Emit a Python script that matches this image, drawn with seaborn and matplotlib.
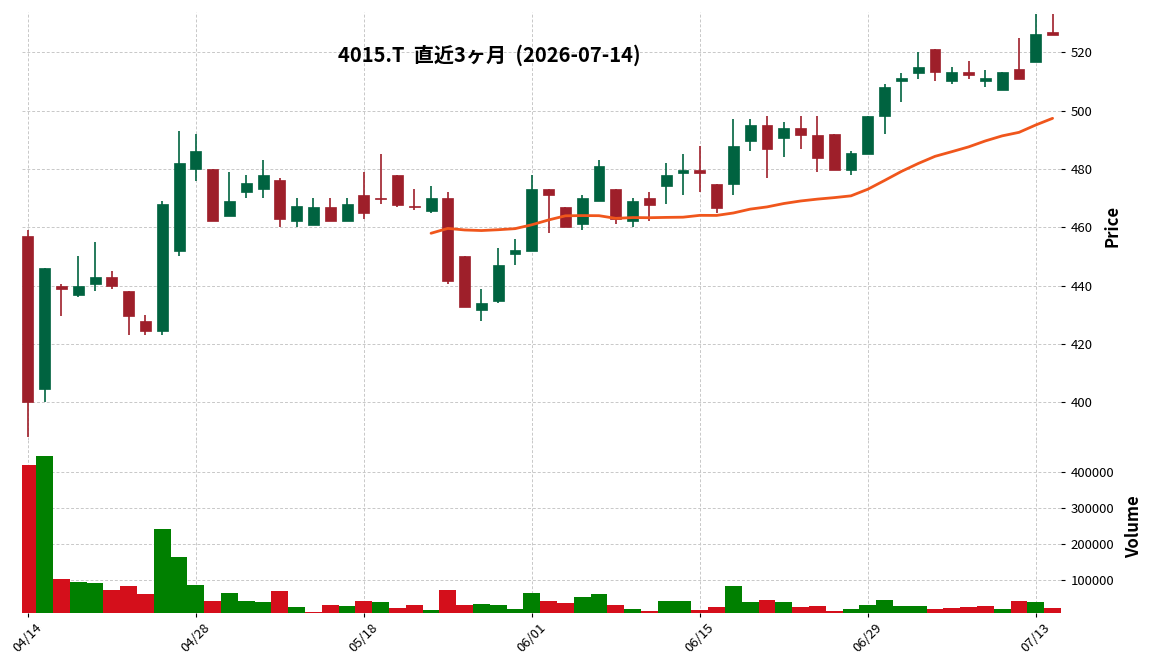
import numpy as np
import pandas as pd
import matplotlib
matplotlib.use("Agg")
import matplotlib.pyplot as plt
import seaborn as sns

# ── daily data (4015.T, last 3 months) ───────────────────────────────────
dates = ["04/14", "04/15", "04/16", "04/17", "04/20", "04/21", "04/22", "04/23", "04/24", "04/27",
         "04/28", "04/30", "05/01", "05/07", "05/08", "05/11", "05/12", "05/13", "05/14", "05/15",
         "05/18", "05/19", "05/20", "05/21", "05/22", "05/25", "05/26", "05/27", "05/28", "05/29",
         "06/01", "06/02", "06/03", "06/04", "06/05", "06/08", "06/09", "06/10", "06/11", "06/12",
         "06/15", "06/16", "06/17", "06/18", "06/19", "06/22", "06/23", "06/24", "06/25", "06/26",
         "06/29", "06/30", "07/01", "07/02", "07/03", "07/06", "07/07", "07/08", "07/09", "07/10",
         "07/13", "07/14"]

opens = [457, 404.5, 440, 436.7, 440.5, 443, 438, 428, 424.6, 452,
         480, 480, 464, 472, 473, 476.3, 462, 460.8, 467, 462,
         471, 470.2, 478, 467, 465.7, 470, 450, 431.6, 434.7, 451,
         452, 473.2, 467, 461, 469, 473, 462, 470, 474, 478.7,
         479.8, 475, 475, 489.5, 495, 490.5, 494, 491.8, 492, 479.8,
         485, 498, 510, 513, 521, 510, 513.3, 510, 507, 514.3,
         516.7, 527]
highs = [459, 446, 440.7, 450, 455, 445, 438, 429.8, 469, 493,
         492, 480, 479, 478, 483, 477, 470, 470, 470, 470,
         479, 485, 478, 473, 474, 472, 450, 439, 453, 456,
         478, 473.2, 467, 471, 483, 473, 470, 472, 482, 485,
         488, 475, 497, 497, 498, 496, 498, 498, 492, 486,
         498.2, 509, 513, 520, 521, 515, 517, 514, 513.3, 525,
         533, 533]
lows = [388, 400, 429.7, 436, 438, 439, 423, 423, 423, 450,
        476, 462, 464, 470, 470, 460, 460, 460.8, 462, 462,
        463, 468, 467, 466, 465, 440.7, 432.6, 428, 434, 447,
        452, 458, 460, 459, 469, 461, 460, 462, 468, 471,
        472, 465, 471, 486, 477, 484, 487, 479, 479.6, 478,
        485, 492, 503, 511, 510, 509, 511, 508, 507, 511,
        516.7, 526]
closes = [400, 446, 439, 440, 443, 440, 429.5, 424.6, 468, 482,
          486, 462, 469, 475.3, 478, 463, 467.2, 467, 462, 468,
          465, 469.8, 467.8, 466.8, 470, 441.6, 432.6, 434, 447, 452.2,
          473.2, 471, 460, 470, 481, 463, 469, 467.7, 478, 479.8,
          478.7, 466.6, 488, 495, 487, 494, 491.6, 483.7, 479.6, 485.3,
          498.2, 508, 511.2, 515, 513.4, 513.2, 512.1, 511.2, 513.3, 511,
          526.3, 526]
volumes = [420600, 445800, 103700, 95300, 92500, 72900, 84100, 61700, 241100, 165400,
           86900, 42100, 64500, 42100, 39300, 70100, 25200, 11200, 30800, 28000,
           42100, 39300, 22400, 30800, 16800, 72900, 30800, 33600, 30800, 19600,
           64500, 42100, 36400, 53300, 61700, 30800, 19600, 14000, 42100, 42100,
           16800, 25200, 84100, 39300, 44900, 39300, 25200, 28000, 14000, 19600,
           30800, 44900, 28000, 28000, 19600, 22400, 25200, 28000, 19600, 42100,
           39300, 22400]

title = "4015.T  直近3ヶ月  (2026-07-14)"
price_ticks = [400, 420, 440, 460, 480, 500, 520]
volume_ticks = [100000, 200000, 300000, 400000]
ma_window = 25

df = pd.DataFrame({"date": dates, "open": opens, "high": highs, "low": lows,
                   "close": closes, "volume": volumes})
df["x"] = np.arange(len(df))
df["ma"] = df["close"].rolling(ma_window).mean()

# colours
up_c, down_c = "#006340", "#9e1f2a"
vol_up_c, vol_down_c = "#008000", "#d40f1b"
ma_c = "#f0561c"

sns.set_theme(style="white", rc={"text.color": "black", "axes.labelcolor": "black",
                                 "xtick.color": "black", "ytick.color": "black"})
plt.rcParams["font.family"] = ["Noto Sans CJK JP", "DejaVu Sans"]

fig = plt.figure(figsize=(11.52, 6.70), dpi=100)
ax = fig.add_axes([0.0191, 0.3433, 0.9019, 0.6388])
axv = fig.add_axes([0.0191, 0.0855, 0.9019, 0.2578], sharex=ax)

grid_kw = dict(color="#c8c8c8", linestyle=(0, (3, 2)), linewidth=0.7)

# ── candles ───────────────────────────────────────────────────────────────
up = df["close"] >= df["open"]
ccol = np.where(up, up_c, down_c)
ax.vlines(df["x"], df["low"], df["high"], colors=ccol, linewidth=1.2, zorder=2)
body = (df["close"] - df["open"]).where(lambda s: s.abs() > 0.3, 0.3)
ax.bar(df["x"], body, bottom=df["open"], width=0.65, color=ccol,
       edgecolor=ccol, linewidth=0.5, zorder=3)

# moving average
sns.lineplot(data=df, x="x", y="ma", ax=ax, color=ma_c, linewidth=2, zorder=4)

ax.set_xlim(-0.35, len(df) - 0.5)
ax.set_ylim(387.1, 533.8)
ax.yaxis.tick_right()
ax.yaxis.set_label_position("right")
ax.set_yticks(price_ticks)
ax.set_ylabel("Price", fontsize=12, fontweight="bold", labelpad=8)
ax.set_xlabel("")
ax.grid(True, **grid_kw)
ax.set_axisbelow(True)
ax.tick_params(axis="x", labelbottom=False, length=0)
ax.tick_params(axis="y", right=True, length=3, width=0.8, labelsize=9.5, pad=4)
ax.text(0.45, 0.9, title, transform=ax.transAxes, ha="center", va="center",
        fontsize=14.5, fontweight="bold")

# ── volume ────────────────────────────────────────────────────────────────
prev_close = df["close"].shift(1).fillna(df["open"])
vcol = np.where(df["close"] > prev_close, vol_up_c, vol_down_c)
axv.bar(df["x"], df["volume"], width=1.0, color=vcol, linewidth=0, zorder=3)
axv.set_ylim(9300, 1.1 * max(volumes))
axv.yaxis.tick_right()
axv.yaxis.set_label_position("right")
axv.set_yticks(volume_ticks)
axv.set_yticklabels([str(v) for v in volume_ticks])
axv.set_ylabel("Volume", fontsize=12, fontweight="bold", labelpad=8)
axv.grid(True, **grid_kw)
axv.set_axisbelow(True)
tick_pos = list(range(0, len(df), 10))
axv.set_xticks(tick_pos)
axv.set_xticklabels([dates[i] for i in tick_pos], rotation=45, ha="center")
axv.tick_params(axis="x", bottom=True, length=3, width=0.8, labelsize=9.5, pad=3)
axv.tick_params(axis="y", right=True, length=3, width=0.8, labelsize=9.5, pad=4)

for a in (ax, axv):
    for s in a.spines.values():
        s.set_visible(False)

fig.savefig("out.png", dpi=100)
